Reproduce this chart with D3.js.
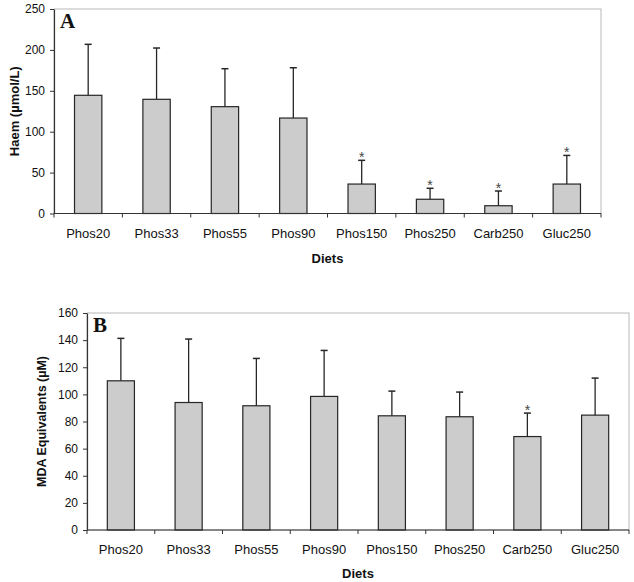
<!DOCTYPE html>
<html>
<head>
<meta charset="utf-8">
<script src="https://cdn.jsdelivr.net/npm/d3@7"></script>
<style>
  html, body { margin: 0; padding: 0; background: #fff; }
  svg { display: block; }
  text { font-family: "Liberation Sans", Arial, sans-serif; fill: #111; }
</style>
</head>
<body>
<svg id="chart" width="634" height="582"></svg>
<script>
// ---- Data ----
const diets = ["Phos20", "Phos33", "Phos55", "Phos90", "Phos150", "Phos250", "Carb250", "Gluc250"];

// Panel A: Haem (µmol/L)
const haemMean = [144.5, 139.6, 130.6, 116.7, 36, 17.4, 9.5, 36];
const haemSD   = [62.3, 62.7, 46.4, 61.5, 29, 13.4, 18, 35];
const haemSig  = [false, false, false, false, true, true, true, true];
const haemTicks = [0, 50, 100, 150, 200, 250];

// Panel B: MDA Equivalents (µM)
const mdaMean = [110, 94, 91.6, 98.5, 84.2, 83.5, 68.9, 84.7];
const mdaSD   = [31.3, 46.8, 34.9, 33.9, 18.2, 18.2, 17.3, 27.3];
const mdaSig  = [false, false, false, false, false, false, true, false];
const mdaTicks = [0, 20, 40, 60, 80, 100, 120, 140, 160];

const svg = d3.select("#chart");

function panel(cfg) {
  const { left, right, top, bottom, mean, sd, sig, ticks, yMax, yLabel, yLabelX, letter, letterY, xTitleY } = cfg;
  const g = svg.append("g");

  const x = d3.scaleBand().domain(diets).range([left, right]).paddingInner(0.6).paddingOuter(0.3);
  const y = d3.scaleLinear().domain([0, yMax]).range([bottom, top]);
  const step = (right - left) / diets.length;

  // plot area border (top/right light grey)
  g.append("rect")
    .attr("x", left).attr("y", top)
    .attr("width", right - left).attr("height", bottom - top)
    .attr("fill", "none").attr("stroke", "#b8b8b8").attr("stroke-width", 1);

  // bars
  g.selectAll("rect.bar").data(diets).join("rect")
    .attr("class", "bar")
    .attr("x", d => x(d))
    .attr("width", x.bandwidth())
    .attr("y", (d, i) => y(mean[i]))
    .attr("height", (d, i) => bottom - y(mean[i]))
    .attr("fill", "#cccccc")
    .attr("stroke", "#262626")
    .attr("stroke-width", 1.2);

  // error bars
  const eb = g.selectAll("g.eb").data(diets).join("g").attr("class", "eb");
  eb.append("line")
    .attr("x1", d => x(d) + x.bandwidth() / 2)
    .attr("x2", d => x(d) + x.bandwidth() / 2)
    .attr("y1", (d, i) => y(mean[i]))
    .attr("y2", (d, i) => y(mean[i] + sd[i]))
    .attr("stroke", "#262626").attr("stroke-width", 1.3);
  eb.append("line")
    .attr("x1", d => x(d) + x.bandwidth() / 2 - 3.5)
    .attr("x2", d => x(d) + x.bandwidth() / 2 + 3.5)
    .attr("y1", (d, i) => y(mean[i] + sd[i]))
    .attr("y2", (d, i) => y(mean[i] + sd[i]))
    .attr("stroke", "#262626").attr("stroke-width", 1.5);

  // significance stars
  g.selectAll("text.star").data(diets.filter((d, i) => sig[i])).join("text")
    .attr("class", "star")
    .attr("x", d => x(d) + x.bandwidth() / 2)
    .attr("y", d => { const i = diets.indexOf(d); return y(mean[i] + sd[i]) + 2; })
    .attr("text-anchor", "middle")
    .style("font-size", "14px")
    .style("fill", "#444")
    .text("*");

  // y axis
  const yAxis = d3.axisLeft(y).tickValues(ticks).tickSize(4).tickPadding(5).tickSizeOuter(0);
  const ya = g.append("g").attr("transform", `translate(${left},0)`).call(yAxis);
  ya.select(".domain").attr("stroke", "#333").attr("stroke-width", 1.2);
  ya.selectAll(".tick line").attr("stroke", "#333");
  ya.selectAll(".tick text").style("font-size", "12px").style("font-family", "Liberation Sans, Arial, sans-serif").attr("fill", "#111");

  // x axis: labels centered in categories, ticks at category boundaries
  const xAxis = d3.axisBottom(x).tickSize(0).tickPadding(15).tickSizeOuter(0);
  const xa = g.append("g").attr("transform", `translate(0,${bottom})`).call(xAxis);
  xa.select(".domain").remove();
  xa.selectAll(".tick text").style("font-size", "13px").style("font-family", "Liberation Sans, Arial, sans-serif").attr("fill", "#111");

  g.append("line")
    .attr("x1", left).attr("x2", right)
    .attr("y1", bottom).attr("y2", bottom)
    .attr("stroke", "#333").attr("stroke-width", 1.2);
  g.selectAll("line.xt").data(d3.range(diets.length + 1)).join("line")
    .attr("class", "xt")
    .attr("x1", i => left + i * step).attr("x2", i => left + i * step)
    .attr("y1", bottom).attr("y2", bottom + 4)
    .attr("stroke", "#333").attr("stroke-width", 1);

  // axis titles
  g.append("text")
    .attr("x", (left + right) / 2).attr("y", xTitleY)
    .attr("text-anchor", "middle")
    .style("font-size", "13px").style("font-weight", "bold")
    .text("Diets");
  g.append("text")
    .attr("transform", `translate(${yLabelX},${(top + bottom) / 2}) rotate(-90)`)
    .attr("text-anchor", "middle")
    .style("font-size", cfg.yLabelSize).style("font-weight", "bold")
    .text(yLabel);

  // panel letter
  g.append("text")
    .attr("x", left + 6).attr("y", letterY)
    .style("font-family", "Liberation Serif, 'Times New Roman', serif")
    .style("font-size", "21px").style("font-weight", "bold")
    .text(letter);
}

panel({
  left: 54, right: 601, top: 9, bottom: 213.5,
  mean: haemMean, sd: haemSD, sig: haemSig, ticks: haemTicks, yMax: 250,
  yLabel: "Haem (µmol/L)", yLabelX: 19, yLabelSize: "13px",
  letter: "A", letterY: 28, xTitleY: 262.5
});

panel({
  left: 87, right: 629, top: 313, bottom: 530,
  mean: mdaMean, sd: mdaSD, sig: mdaSig, ticks: mdaTicks, yMax: 160,
  yLabel: "MDA Equivalents (µM)", yLabelX: 46, yLabelSize: "12.5px",
  letter: "B", letterY: 332, xTitleY: 577.5
});
</script>
</body>
</html>
